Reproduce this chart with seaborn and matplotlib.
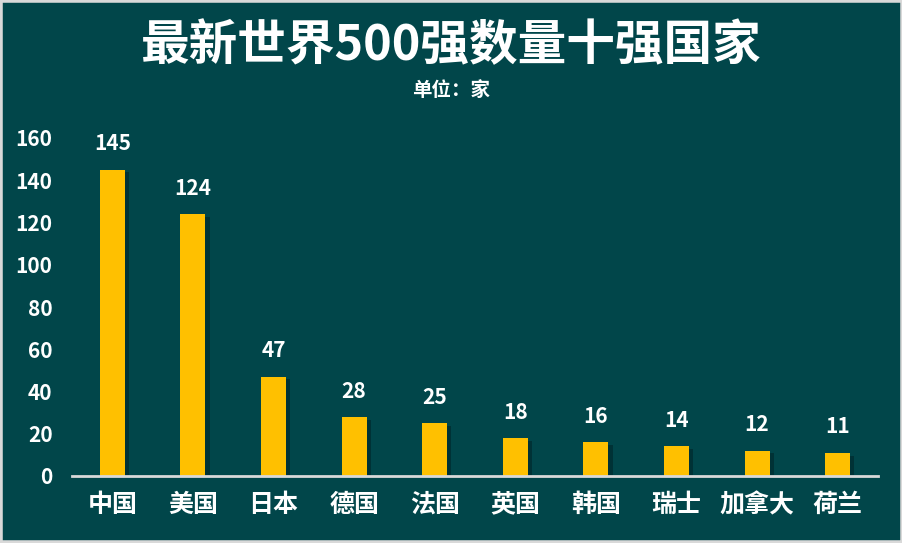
import matplotlib
matplotlib.use('Agg')
import matplotlib.pyplot as plt
import matplotlib.patheffects as pe
from matplotlib.patches import Rectangle
import seaborn as sns
import pandas as pd

# 数据
countries = ['中国', '美国', '日本', '德国', '法国', '英国', '韩国', '瑞士', '加拿大', '荷兰']
counts = [145, 124, 47, 28, 25, 18, 16, 14, 12, 11]
yticks = [0, 20, 40, 60, 80, 100, 120, 140, 160]

BG = '#01464A'
BAR = '#FFC000'
AXIS = '#D9D9D9'

sns.set_style('white')
plt.rcParams['font.family'] = ['Noto Sans CJK SC', 'DejaVu Sans']

df = pd.DataFrame({'country': countries, 'count': counts})

fig = plt.figure(figsize=(9.03, 5.43), dpi=100, facecolor=BG)
ax = fig.add_axes([72 / 903, (543 - 476) / 543, (878 - 72) / 903, (476 - 138) / 543])
ax.set_facecolor(BG)

sns.barplot(data=df, x='country', y='count', color=BAR, width=0.31,
            saturation=1, linewidth=0, ax=ax)

for p in ax.patches:
    p.set_path_effects([pe.SimplePatchShadow(offset=(3, -2), shadow_rgbFace='#00262a', alpha=0.6),
                        pe.Normal()])

for i, v in enumerate(counts):
    ax.annotate(str(v), (i, v), xytext=(0, 11), textcoords='offset points',
                ha='center', va='bottom', color='white', fontsize=15,
                fontweight='bold', clip_on=False)

ax.set_ylim(0, 160)
ax.set_yticks(yticks)
ax.set_yticklabels([str(t) for t in yticks], color='white', fontsize=15, fontweight='bold')
ax.set_xticks(range(len(countries)))
ax.set_xticklabels(countries, color='white', fontsize=18, fontweight='bold')
ax.tick_params(axis='both', length=0)
ax.tick_params(axis='x', pad=12)
ax.tick_params(axis='y', pad=14)
ax.set_xlabel('')
ax.set_ylabel('')

for s in ['top', 'right', 'left']:
    ax.spines[s].set_visible(False)
ax.spines['bottom'].set_color(AXIS)
ax.spines['bottom'].set_linewidth(2)
ax.set_xlim(-0.5, len(countries) - 0.5)

fig.text(0.5, 1 - 46 / 543, '最新世界500强数量十强国家', ha='center', va='center',
         color='white', fontsize=35, fontweight='bold')
fig.text(0.5, 1 - 90 / 543, '单位：家', ha='center', va='center',
         color='white', fontsize=14, fontweight='bold')

fig.patches.append(Rectangle((0, 0), 1, 1, transform=fig.transFigure,
                             fill=False, edgecolor=AXIS, linewidth=4))

fig.savefig('out.png', dpi=100, facecolor=BG)
